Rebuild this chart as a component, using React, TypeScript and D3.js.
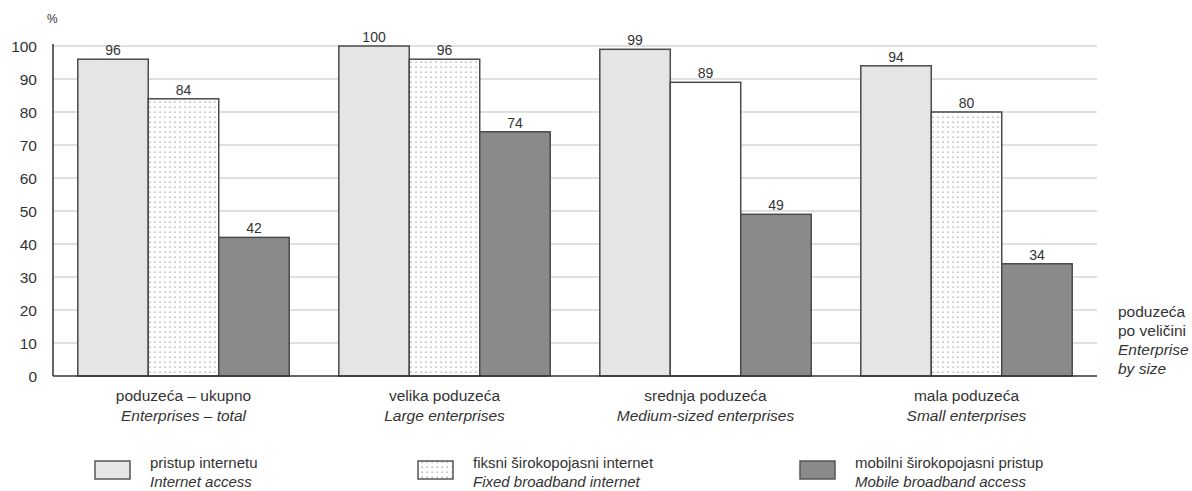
import React from "react";
import * as d3 from "d3";

const categories = ["poduzeća – ukupno", "velika poduzeća", "srednja poduzeća", "mala poduzeća"];
const categoriesEn = ["Enterprises – total", "Large enterprises", "Medium-sized enterprises", "Small enterprises"];
const seriesNames = ["pristup internetu", "fiksni širokopojasni internet", "mobilni širokopojasni pristup"];
const seriesNamesEn = ["Internet access", "Fixed broadband internet", "Mobile broadband access"];
const internetAccess = [96, 100, 99, 94];
const fixedBroadband = [84, 96, 89, 80];
const mobileBroadband = [42, 74, 49, 34];
const yTicks = [0, 10, 20, 30, 40, 50, 60, 70, 80, 90, 100];

const W = 1192, H = 491;
const left = 53, right = 1097, top = 46, bottom = 376;

export default function App() {
  const series = [internetAccess, fixedBroadband, mobileBroadband];
  const x0 = d3.scaleBand<number>().domain(d3.range(categories.length)).range([left, right]).paddingInner(0.19).paddingOuter(0.095);
  const x1 = d3.scaleBand<number>().domain([0, 1, 2]).range([0, x0.bandwidth()]).padding(0);
  const y = d3.scaleLinear().domain([0, 100]).range([bottom, top]);
  const fills = ["#e5e5e5", "url(#dots)", "#8a8a8a"];
  const font = "Liberation Sans, Arial, sans-serif";
  const txt = "#333";
  const legendX = [95, 418, 800];
  return (
    <svg width={W} height={H} style={{ position: "absolute", left: 0, top: 0, background: "#fff" }} fontFamily={font}>
      <defs>
        <pattern id="dots" width="5" height="5" patternUnits="userSpaceOnUse">
          <rect width="5" height="5" fill="#fff" />
          <rect x="1.5" y="1.5" width="1.3" height="1.3" fill="#9a9a9a" />
        </pattern>
      </defs>
      {yTicks.map(t => (
        <g key={t}>
          {t > 0 && <line x1={left} x2={right} y1={y(t)} y2={y(t)} stroke="#d6d6d6" strokeWidth={1.3} />}
          <text x={37} y={y(t) + 5.5} textAnchor="end" fontSize={15.5} fill={txt}>{t}</text>
        </g>
      ))}
      <text x={47} y={23} fontSize={12} fill={txt}>%</text>
      {categories.map((c, i) => (
        <g key={c} transform={`translate(${x0(i)},0)`}>
          {series.map((s, j) => (
            <g key={j}>
              <rect x={x1(j)} y={y(s[i])} width={x1.bandwidth()} height={bottom - y(s[i])}
                fill={j === 1 && i === 2 ? "#fff" : fills[j]} stroke="#4a4a4a" strokeWidth={1.5} />
              <text x={(x1(j) as number) + x1.bandwidth() / 2} y={y(s[i]) - 4} textAnchor="middle" fontSize={14} fill={txt}>{s[i]}</text>
            </g>
          ))}
          <text x={x0.bandwidth() / 2} y={401} textAnchor="middle" fontSize={15.5} fill={txt}>{c}</text>
          <text x={x0.bandwidth() / 2} y={421} textAnchor="middle" fontSize={15.5} fontStyle="italic" fill={txt}>{categoriesEn[i]}</text>
        </g>
      ))}
      <line x1={left} x2={left} y1={top - 2} y2={bottom} stroke="#333" strokeWidth={1.5} />
      <line x1={left} x2={right} y1={bottom} y2={bottom} stroke="#333" strokeWidth={1.5} />
      <text fontSize={15.5} fill={txt}>
        <tspan x={1118} y={317}>poduzeća</tspan>
        <tspan x={1118} y={336}>po veličini</tspan>
        <tspan x={1118} y={355} fontStyle="italic">Enterprise</tspan>
        <tspan x={1118} y={374} fontStyle="italic">by size</tspan>
      </text>
      {seriesNames.map((n, j) => (
        <g key={n}>
          <rect x={legendX[j]} y={461} width={35} height={18} fill={fills[j]} stroke="#555" strokeWidth={1.5} />
          <text x={legendX[j] + 55} y={468} fontSize={15} fill={txt}>{n}</text>
          <text x={legendX[j] + 55} y={487} fontSize={15} fontStyle="italic" fill={txt}>{seriesNamesEn[j]}</text>
        </g>
      ))}
    </svg>
  );
}
